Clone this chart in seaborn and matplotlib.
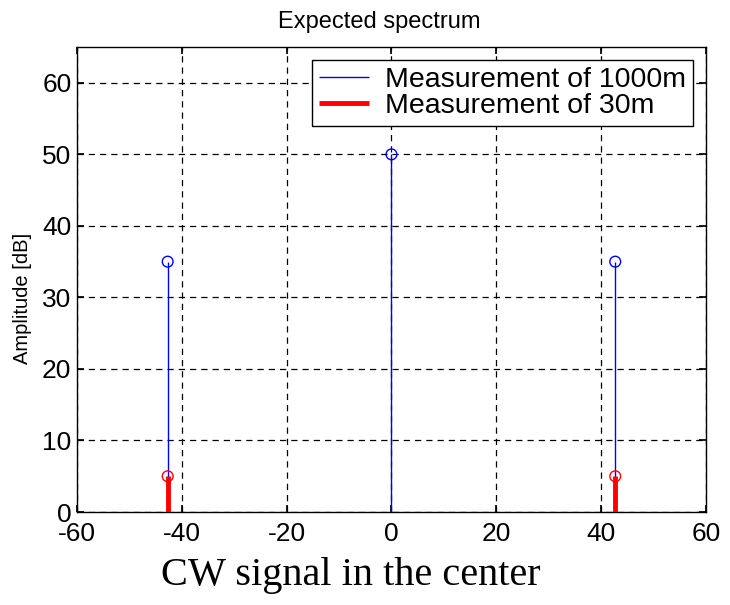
import numpy as np
import pandas as pd
import matplotlib
matplotlib.use("Agg")
import matplotlib.pyplot as plt
import seaborn as sns

freq_1000 = [-42.7, 0.0, 42.7]
amp_1000 = [35, 50, 35]
freq_30 = [-42.7, 42.7]
amp_30 = [5, 5]
xticks = [-60, -40, -20, 0, 20, 40, 60]
yticks = [0, 10, 20, 30, 40, 50, 60]

sns.set_theme(style="white")
plt.rcParams['font.family'] = ['Liberation Sans', 'DejaVu Sans']
plt.rcParams['text.color'] = 'black'
plt.rcParams['axes.labelcolor'] = 'black'
plt.rcParams['xtick.color'] = 'black'
plt.rcParams['ytick.color'] = 'black'

fig = plt.figure(figsize=(7.3, 6.05), dpi=100)
ax = fig.add_axes([0.1055, 0.1537, 0.8615, 0.7685])

df1 = pd.DataFrame({"f": freq_1000, "a": amp_1000})
df2 = pd.DataFrame({"f": freq_30, "a": amp_30})

ax.vlines(df1["f"], 0, df1["a"], color="blue", lw=1.0, zorder=3,
          label="Measurement of 1000m")
ax.vlines(df2["f"], 0, df2["a"], color="red", lw=3.5, zorder=4,
          label="Measurement of 30m")
sns.scatterplot(data=df1, x="f", y="a", ax=ax, marker="o", s=60,
                facecolor="none", edgecolor="blue", linewidth=1.0,
                zorder=5, legend=False)
sns.scatterplot(data=df2, x="f", y="a", ax=ax, marker="o", s=60,
                facecolor="none", edgecolor="red", linewidth=1.0,
                zorder=5, legend=False)

ax.set_xlim(-60, 60)
ax.set_ylim(0, 65)
ax.set_xticks(xticks)
ax.set_yticks(yticks)
ax.set_xticklabels([str(t) for t in xticks], fontsize=19)
ax.set_yticklabels([str(t) for t in yticks], fontsize=19)
ax.tick_params(direction="in", length=5, color="black", top=True, right=True,
               bottom=True, left=True)
ax.tick_params(axis="x", pad=7)
ax.tick_params(axis="y", pad=4)
ax.grid(True, color="black", linestyle=(0, (5, 4)), linewidth=0.9)
for s in ax.spines.values():
    s.set_color("black")
    s.set_linewidth(1.0)
ax.set_xlabel("")
ax.set_ylabel("Amplitude [dB]", fontsize=14.5)
ax.yaxis.set_label_coords(-0.072, 0.46)
ax.set_title("Expected spectrum", fontsize=17, pad=14, x=0.48)

leg = ax.legend(loc="upper right", fontsize=20.5, frameon=True, fancybox=False,
                edgecolor="black", framealpha=1, borderpad=0.25,
                handlelength=1.75, handletextpad=0.55, labelspacing=0.0,
                borderaxespad=0.45)
leg.get_frame().set_linewidth(1.0)

fig.text(0.48, 0.048, "CW signal in the center", ha="center", va="center",
         fontsize=29, family=["Liberation Serif", "DejaVu Serif"])

fig.savefig("out.png", dpi=100, facecolor="white")
